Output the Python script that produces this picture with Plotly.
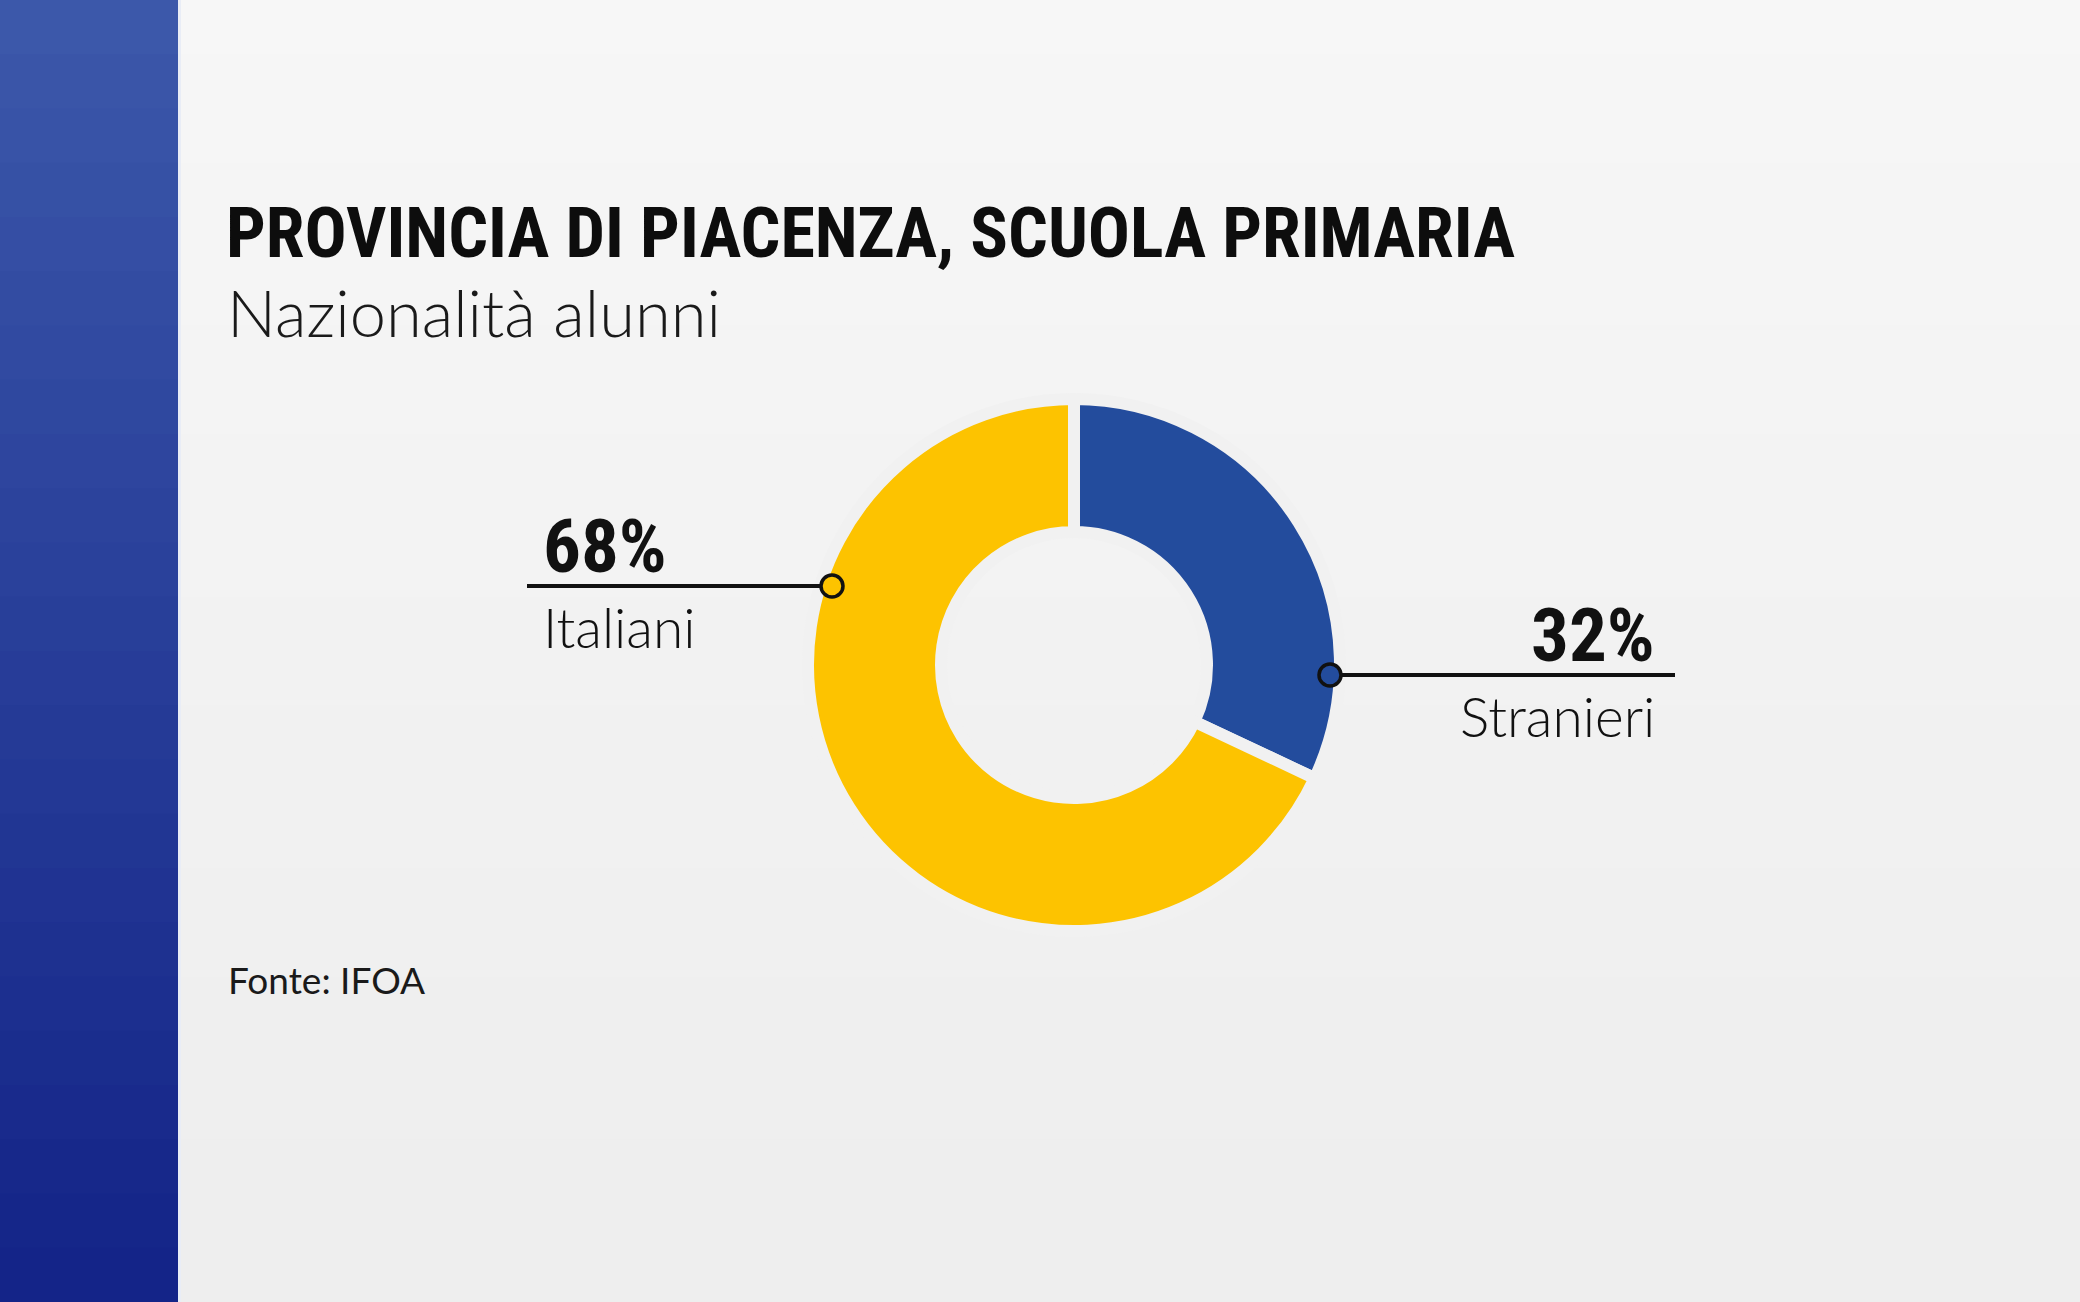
import plotly.graph_objects as go

# ---- data ----
categories = ["Stranieri", "Italiani"]
values = [32, 68]
value_labels = ["32%", "68%"]
slice_colors = ["#234C9D", "#FDC300"]

title_text = "PROVINCIA DI PIACENZA, SCUOLA PRIMARIA"
subtitle_text = "Nazionalità alunni"
source_text = "Fonte: IFOA"

# ---- layout constants (pixels) ----
W, H = 2080, 1302
BG = "#f1f1f1"
CX, CY, R = 1074, 665, 266
HOLE = 0.5
GAP = 12
COND = "Roboto Condensed, DejaVu Sans Condensed, Liberation Sans Narrow, Arial Narrow, Roboto"

fig = go.Figure()

# background soft gradient (lighter at top)
bands = 24
for i in range(bands):
    t = i / (bands - 1)
    c = int(247 - 9 * t)
    fig.add_shape(type="rect", xref="x", yref="y",
                  x0=0, x1=W, y0=H * i / bands, y1=H * (i + 1) / bands + 1,
                  fillcolor=f"rgb({c},{c},{c})", line_width=0, layer="below")

# left blue panel gradient
top = (60, 88, 170)
bot = (20, 36, 136)
for i in range(bands):
    t = i / (bands - 1)
    col = tuple(int(top[k] + (bot[k] - top[k]) * t) for k in range(3))
    fig.add_shape(type="rect", xref="x", yref="y",
                  x0=0, x1=178, y0=H * i / bands, y1=H * (i + 1) / bands + 1,
                  fillcolor=f"rgb{col}", line_width=0, layer="below")
fig.add_shape(type="rect", xref="x", yref="y", x0=178, x1=181, y0=0, y1=H,
              fillcolor="#e9edf6", line_width=0, layer="below")

# donut
fig.add_trace(go.Pie(
    labels=categories, values=values, sort=False, direction="clockwise",
    rotation=0, hole=HOLE, textinfo="none", hoverinfo="label+percent",
    marker=dict(colors=slice_colors, line=dict(color=BG, width=GAP)),
    domain=dict(x=[(CX - R) / W, (CX + R) / W],
                y=[(H - CY - R) / H, (H - CY + R) / H]),
    showlegend=False,
))

# leader lines with dots (label anchor positions)
leaders = {
    "Italiani": dict(x0=527, x1=832, y=586, align="left"),
    "Stranieri": dict(x0=1330, x1=1675, y=675, align="right"),
}
DOT = 11
for cat, val, lab, col in zip(categories, values, value_labels, slice_colors):
    L = leaders[cat]
    fig.add_shape(type="line", xref="x", yref="y", x0=L["x0"], x1=L["x1"],
                  y0=L["y"], y1=L["y"], line=dict(color="#111111", width=4),
                  layer="above")
    dot_x = L["x1"] if L["align"] == "left" else L["x0"]
    fig.add_shape(type="circle", xref="x", yref="y",
                  x0=dot_x - DOT, x1=dot_x + DOT, y0=L["y"] - DOT, y1=L["y"] + DOT,
                  fillcolor=col, line=dict(color="#111111", width=3.5),
                  layer="above")
    if L["align"] == "left":
        tx, anchor = L["x0"] + 14, "left"
    else:
        tx, anchor = L["x1"] - 18, "right"
    fig.add_annotation(x=tx, y=L["y"] + 6, xref="x", yref="y", text=lab,
                       showarrow=False, xanchor=anchor, yanchor="bottom",
                       font=dict(family=COND, size=75,
                                 color="#111111", weight="bold"))
    fig.add_annotation(x=tx, y=L["y"] + 6, xref="x", yref="y", text=cat,
                       showarrow=False, xanchor=anchor, yanchor="top",
                       font=dict(family="Lato", size=55, color="#111111", weight=300))

# titles
fig.add_annotation(x=224, y=276, xref="x", yref="y", text=title_text,
                   showarrow=False, xanchor="left", yanchor="bottom",
                   font=dict(family=COND, size=70,
                             color="#0d0d0d", weight="bold"))
fig.add_annotation(x=225, y=271, xref="x", yref="y", text=subtitle_text,
                   showarrow=False, xanchor="left", yanchor="top",
                   font=dict(family="Lato", size=65, color="#1a1a1a", weight=300))
fig.add_annotation(x=226, y=955, xref="x", yref="y", text=source_text,
                   showarrow=False, xanchor="left", yanchor="top",
                   font=dict(family="Lato", size=37, color="#1a1a1a"))

fig.update_layout(
    width=W, height=H, margin=dict(l=0, r=0, t=0, b=0),
    paper_bgcolor=BG, plot_bgcolor="rgba(0,0,0,0)",
    xaxis=dict(range=[0, W], visible=False, fixedrange=True),
    yaxis=dict(range=[H, 0], visible=False, fixedrange=True),
)

fig.write_html("out.html", config={"displayModeBar": False},
               post_script="document.body.style.margin='0';")
